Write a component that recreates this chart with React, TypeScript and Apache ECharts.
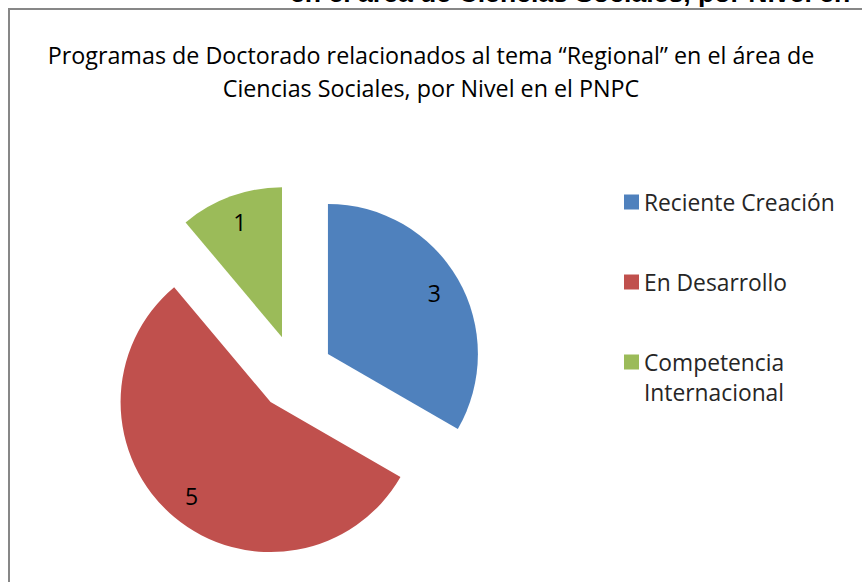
import React, { useEffect, useRef } from "react";
import * as echarts from "echarts";

const categories = ["Reciente Creación", "En Desarrollo", "Competencia Internacional"];
const legendLabels = ["Reciente Creación", "En Desarrollo", "Competencia\nInternacional"];
const values = [3, 5, 1];
const colors = ["#4F81BD", "#C0504D", "#9BBB59"];
const titleText =
  "Programas de Doctorado relacionados al tema “Regional” en el área de\nCiencias Sociales, por Nivel en el PNPC";
const headingText = "en el área de Ciencias Sociales, por Nivel en";

export default function App() {
  const ref = useRef<HTMLDivElement>(null);
  useEffect(() => {
    const chart = echarts.init(ref.current!, null, { renderer: "svg" });
    const font = "Open Sans";
    const pieData = categories.map((name, i) => ({
      name,
      value: values[i],
      selected: true,
      itemStyle: { color: colors[i] },
    }));
    const labelData = categories.map((name, i) => ({ name, value: values[i], selected: true }));
    const legendTops = [187, 267, 347];
    chart.setOption({
      animation: false,
      title: {
        text: titleText,
        left: "center",
        top: 38,
        padding: 0,
        textStyle: { fontFamily: font, fontSize: 23.3, fontWeight: "normal", color: "#000", lineHeight: 33 },
      },
      legend: categories.map((name, i) => ({
        data: [name],
        orient: "vertical",
        left: 624,
        top: legendTops[i],
        padding: 0,
        itemWidth: 15,
        itemHeight: i === 2 ? 45 : 15,
        itemGap: 0,
        selectedMode: false,
        icon: i === 2 ? "path://M0,0H15V15H0ZM0,45L0.01,45" : "rect",
        formatter: () => legendLabels[i],
        textStyle: {
          fontFamily: font,
          fontSize: 22.8,
          color: "#262626",
          lineHeight: 30,
        },
      })),
      graphic: [
        {
          type: "rect",
          silent: true,
          z: -1,
          shape: { x: 9, y: 9, width: 900, height: 620 },
          style: { fill: "none", stroke: "#878787", lineWidth: 2 },
        },
        {
          type: "text",
          silent: true,
          x: 290,
          y: -7.5,
          style: {
            text: headingText,
            fontFamily: "Liberation Sans",
            fontWeight: "bold",
            fontSize: 26.6,
            fill: "#000",
            verticalAlign: "middle",
          },
        },
      ],
      series: [
        {
          type: "pie",
          center: [295, 373],
          radius: 150,
          startAngle: 90,
          clockwise: true,
          selectedMode: "multiple",
          selectedOffset: 38,
          avoidLabelOverlap: false,
          silent: true,
          data: pieData,
          label: { show: false },
          labelLine: { show: false },
          emphasis: { disabled: true },
        },
        {
          type: "pie",
          center: [295, 373],
          radius: [90, 150],
          startAngle: 90,
          clockwise: true,
          selectedMode: "multiple",
          selectedOffset: 38,
          avoidLabelOverlap: false,
          silent: true,
          data: labelData,
          itemStyle: { color: "rgba(0,0,0,0)" },
          label: { show: true, position: "inside", formatter: "{c}", fontFamily: font, fontSize: 23, color: "#000" },
          labelLine: { show: false },
          emphasis: { disabled: true },
        },
      ],
    });
    return () => chart.dispose();
  }, []);
  return <div ref={ref} style={{ position: "absolute", left: 0, top: 0, width: 862, height: 582 }} />;
}
